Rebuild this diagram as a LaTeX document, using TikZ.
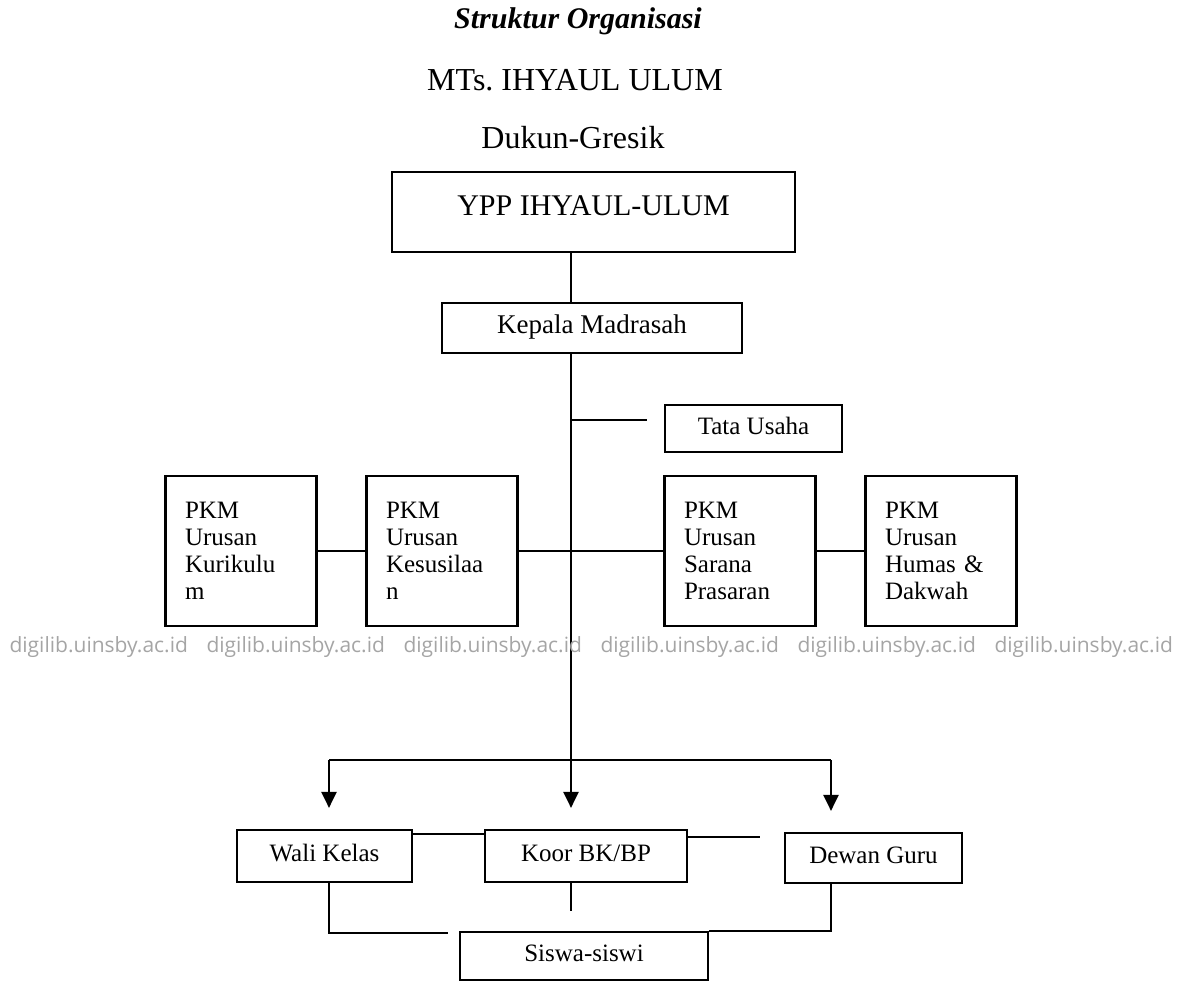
\documentclass[tikz,border=0pt]{standalone}
\usepackage{fontspec}
\setmainfont{Liberation Serif}
\newfontfamily\wmfont{Open Sans}
\usepackage{tikz}
\usetikzlibrary{arrows.meta}
\definecolor{wmgray}{RGB}{165,165,165}

\tikzset{
  garis/.style={line width=2.2pt},
  box/.style={draw, garis, inner sep=0pt, font=\fontsize{25}{27}\selectfont},
  onebox/.style={box, text height=17pt, text depth=6pt},
  pkmbox/.style={box, minimum width=151pt, minimum height=150pt, text width=112pt, align=left},
  panah/.style={garis, -{Triangle[width=15pt,length=16pt]}, shorten >=21pt},
  watermark/.style={text=wmgray, font=\wmfont\fontsize{21}{23}\selectfont, anchor=base west}
}

\begin{document}
\begin{tikzpicture}[x=1pt, y=-1pt]
        \useasboundingbox (0,0) rectangle (1184,983);

        % Judul
        \node[anchor=base, font=\fontsize{30}{34}\selectfont\bfseries\itshape] (judul) at (578,28) {Struktur Organisasi};
        \node[anchor=base, font=\fontsize{32}{36}\selectfont] (sekolah) at (575,90) {MTs.\ IHYAUL ULUM};
        \node[anchor=base, font=\fontsize{32}{36}\selectfont] (kota) at (573,148) {Dukun-Gresik};

        % Pimpinan
        \node[box, minimum width=403pt, minimum height=80pt, font=\fontsize{30}{34}\selectfont, text height=20pt, text depth=14pt] (ypp) at (593.5,212) {YPP IHYAUL-ULUM};
        \node[onebox, font=\fontsize{27}{30}\selectfont, minimum width=300pt, minimum height=50pt] (kepala) at (592,328) {Kepala Madrasah};
        \node[onebox, minimum width=177pt, minimum height=47pt] (tu) at (753.5,428.5) {Tata Usaha};

        % Urusan
        \node[pkmbox] (kur) at (241,551) {PKM\\Urusan\\Kurikulu\\m};
        \node[pkmbox] (kes) at (442,551) {PKM\\Urusan\\Kesusilaa\\n};
        \node[pkmbox] (sar) at (740,551) {PKM\\Urusan\\Sarana\\Prasaran};
        \node[pkmbox] (hum) at (941,551) {PKM\\Urusan\\Humas \&\\Dakwah};

        % Bawah
        \node[onebox, minimum width=175pt, minimum height=52pt] (wali) at (324.5,856) {Wali Kelas};
        \node[onebox, minimum width=202pt, minimum height=52pt] (koor) at (586,856) {Koor BK/BP};
        \node[onebox, minimum width=177pt, minimum height=50pt] (dewan) at (873.5,858) {Dewan Guru};
        \node[onebox, minimum width=248pt, minimum height=48pt] (siswa) at (584,956) {Siswa-siswi};

        % Titik bantu
        \coordinate (batang) at (571,760);
        \coordinate (kiri) at (329,760);
        \coordinate (kanan) at (831,760);
        \coordinate (tu-ujung) at (647,420);
        \coordinate (wk) at (0,834);
        \coordinate (bk-ujung) at (760,837);
        \coordinate (bk-bawah) at (571,911);
        \coordinate (wali-ujung) at (448,933);

        % Garis
        \draw[garis] (ypp.south -| batang) -- (kepala.north -| batang);
        \draw[garis] (kepala.south -| batang) -- (batang);
        \draw[garis] (tu-ujung -| batang) -- (tu-ujung);
        \draw[garis] (kur) -- (kes);
        \draw[garis] (kes) -- (sar);
        \draw[garis] (sar) -- (hum);

        \draw[garis] (kiri) -- (kanan);
        \draw[panah] (kiri) -- (kiri |- wali.north);
        \draw[panah] (batang) -- (batang |- koor.north);
        \draw[panah] (kanan) -- (kanan |- dewan.north);

        \draw[garis] (wali.east |- wk) -- (koor.west |- wk);
        \draw[garis] (koor.east |- bk-ujung) -- (bk-ujung);
        \draw[garis] (koor.south -| bk-bawah) -- (bk-bawah);
        \draw[garis] (wali.south -| kiri) |- (wali-ujung);
        \draw[garis] (dewan.south -| kanan) |- (siswa.north east);

        % Watermark
        \node[watermark] (wm1) at (6,652) {digilib.uinsby.ac.id};
        \node[watermark] (wm2) at (203,652) {digilib.uinsby.ac.id};
        \node[watermark] (wm3) at (400,652) {digilib.uinsby.ac.id};
        \node[watermark] (wm4) at (597,652) {digilib.uinsby.ac.id};
        \node[watermark] (wm5) at (794,652) {digilib.uinsby.ac.id};
        \node[watermark] (wm6) at (991,652) {digilib.uinsby.ac.id};
\end{tikzpicture}
\end{document}
